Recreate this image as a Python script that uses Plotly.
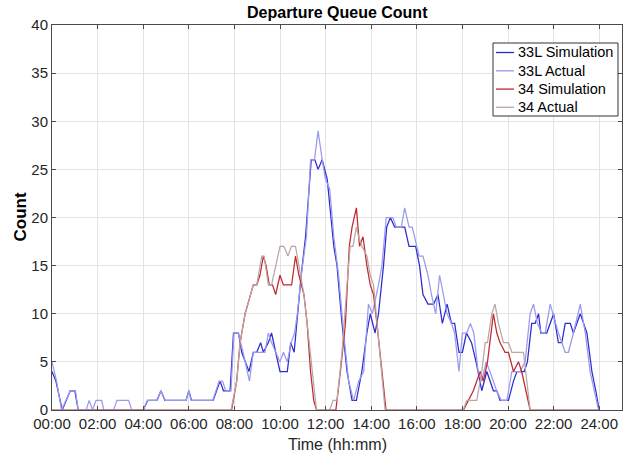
import plotly.graph_objects as go

# ---- data (time in hours, queue count) ----
sim33_t = [0.0, 0.17, 0.45, 0.8, 1.0, 1.15, 4.0, 4.2, 4.6, 4.78, 4.95, 5.88, 6.0, 6.12, 7.07, 7.37, 7.52, 7.81,
           7.96, 8.18, 8.32, 8.64, 8.83, 8.98, 9.15, 9.27, 9.49, 9.63, 9.81, 10.0, 10.32, 10.47, 10.62, 10.76,
           10.93, 11.12, 11.37, 11.53, 11.67, 11.85, 12.07, 12.36, 12.5, 12.72, 12.94, 13.16, 13.35, 13.59,
           13.81, 13.96, 14.17, 14.32, 14.54, 14.68, 14.84, 15.03, 15.47, 15.66, 15.95, 16.12, 16.27, 16.49,
           16.74, 16.93, 17.12, 17.33, 17.52, 17.66, 17.85, 18.0, 18.18, 18.4, 18.6, 18.85, 19.07, 19.36,
           19.51, 19.65, 20.02, 20.24, 20.39, 20.71, 20.85, 21.04, 21.19, 21.34, 21.44, 21.7, 22.0, 22.21,
           22.36, 22.51, 22.73, 22.87, 23.17, 23.46, 23.68, 23.85, 24.0]
sim33_v = [4, 3, 0, 2, 2, 0, 0, 1, 1, 2, 1, 1, 2, 1, 1, 3, 2, 2,
           8, 8, 6, 4, 6, 6, 7, 6, 7, 8, 6, 4, 4, 7, 6, 10,
           14, 18, 26, 26, 25, 26, 24, 17, 15, 9, 4, 1, 1, 4,
           8, 10, 8, 10, 15, 19, 20, 19, 19, 17, 17, 15, 12, 11,
           11, 12, 9, 11, 9, 9, 6, 6, 8, 7, 5, 2, 4, 2,
           2, 1, 1, 3, 4, 4, 5, 9, 9, 10, 8, 8, 10, 7,
           7, 9, 9, 8, 10, 8, 4, 2, 0]

act33_t = [0.0, 0.2, 0.42, 0.8, 1.03, 1.15, 1.5, 1.63, 1.78, 1.93, 2.18, 2.27, 2.7, 2.85, 3.36, 3.5, 4.0, 4.18,
           4.62, 4.77, 4.97, 5.88, 6.0, 6.1, 7.05, 7.33, 7.48, 7.62, 7.85, 7.98, 8.17, 8.38, 8.66, 8.83, 9.34,
           9.49, 9.63, 9.8, 10.0, 10.15, 10.32, 10.49, 10.64, 10.76, 10.93, 11.16, 11.34, 11.51, 11.67, 11.85,
           11.99, 12.18, 12.36, 12.57, 12.79, 13.01, 13.23, 13.45, 13.67, 13.88, 14.05, 14.32, 14.47, 14.66,
           14.95, 15.1, 15.32, 15.47, 15.66, 15.8, 16.1, 16.27, 16.49, 16.64, 16.83, 17.0, 17.15, 17.33,
           17.52, 17.66, 17.85, 18.0, 18.19, 18.35, 18.5, 18.69, 18.85, 19.04, 19.21, 19.36, 19.5, 19.7,
           19.95, 20.17, 20.53, 20.75, 20.97, 21.12, 21.29, 21.48, 21.63, 21.85, 22.07, 22.21, 22.51, 22.65,
           22.87, 23.17, 23.39, 23.6, 23.97]
act33_v = [5, 3, 0, 2, 2, 0, 0, 1, 0, 1, 1, 0, 0, 1, 1, 0, 0, 1,
           1, 2, 1, 1, 2, 1, 1, 3, 3, 2, 2, 8, 8, 6, 3, 6, 6,
           8, 7, 6, 5, 6, 5, 7, 8, 10, 14, 18, 26, 26, 29, 26,
           24, 23, 18, 14, 8, 3, 1, 3, 4, 11, 10, 13, 15, 20,
           20, 19, 19, 21, 19, 19, 16, 16, 14, 12, 10, 14, 12, 10,
           9, 8, 4, 8, 8, 9, 8, 4, 3, 5, 4, 3, 2, 1,
           1, 4, 4, 5, 10, 11, 9, 8, 8, 11, 9, 8, 6, 6,
           8, 11, 8, 4, 0]

sim34_t = [0.0, 7.88, 8.1, 8.25, 8.47, 8.69, 8.83, 8.98, 9.12, 9.27, 9.39, 9.53, 9.67, 9.81, 10.0, 10.15,
           10.51, 10.68, 10.83, 11.05, 11.19, 11.34, 11.48, 11.6, 12.45, 12.65, 12.87, 13.04, 13.16, 13.35,
           13.49, 13.64, 13.81, 13.96, 14.1, 14.25, 14.47, 14.65, 18.05, 18.26, 18.48, 18.78, 18.92, 19.1,
           19.36, 19.51, 19.65, 19.87, 20.02, 20.24, 20.46, 20.6, 20.97, 24.0]
sim34_v = [0, 0, 3, 7, 10, 12, 13, 13, 14, 16, 15, 13, 13, 12, 14, 13,
           13, 16, 14, 12, 9, 4, 1, 0, 0, 4, 9, 17, 19, 21,
           17, 18, 15, 13, 12, 9, 4, 0, 0, 1, 2, 4, 3, 5,
           10, 8, 7, 6, 6, 4, 5, 4, 0, 0]

act34_t = [0.0, 7.85, 8.1, 8.25, 8.47, 8.69, 8.83, 8.98, 9.2, 9.3, 9.49, 9.63, 10.0, 10.17, 10.35, 10.5,
           10.68, 10.83, 11.05, 11.19, 11.4, 11.6, 12.18, 12.33, 12.5, 12.72, 12.97, 13.08, 13.2, 13.35,
           13.45, 13.59, 13.81, 13.96, 14.1, 14.25, 14.61, 18.04, 18.19, 18.63, 18.85, 19.0, 19.1, 19.29,
           19.43, 19.58, 19.8, 20.02, 20.17, 20.68, 20.97, 24.0]
act34_v = [0, 0, 3, 7, 10, 12, 13, 13, 16, 16, 13, 13, 17, 17, 16, 17,
           17, 15, 12, 9, 4, 0, 0, 1, 1, 6, 14, 17, 17, 19,
           18, 17, 16, 14, 13, 9, 0, 0, 1, 1, 4, 7, 7, 10,
           11, 9, 7, 7, 6, 6, 0, 0]

series_names = ["33L Simulation", "33L Actual", "34 Simulation", "34 Actual"]
series_colors = ["#2b2bd0", "#9a9aee", "#c0292e", "#bba6a6"]

x_tickvals = [0, 2, 4, 6, 8, 10, 12, 14, 16, 18, 20, 22, 24]
x_ticktext = ["00:00", "02:00", "04:00", "06:00", "08:00", "10:00", "12:00",
              "14:00", "16:00", "18:00", "20:00", "22:00", "24:00"]
y_tickvals = [0, 5, 10, 15, 20, 25, 30, 35, 40]

title_text = "Departure Queue Count"
x_title = "Time (hh:mm)"
y_title = "Count"

fig = go.Figure()
for name, t, v, c in zip(series_names,
                         [sim33_t, act33_t, sim34_t, act34_t],
                         [sim33_v, act33_v, sim34_v, act34_v],
                         series_colors):
    fig.add_trace(go.Scatter(x=t, y=v, mode="lines", name=name, showlegend=False,
                             line=dict(color=c, width=1.25)))

font_family = "Liberation Sans, Arial, Helvetica, sans-serif"
axis_common = dict(showgrid=True, gridcolor="#e3e3e3", gridwidth=1,
                   showline=True, linecolor="#4a4a4a", linewidth=1,
                   mirror="ticks", ticks="inside", ticklen=4, tickcolor="#4a4a4a",
                   zeroline=False, automargin=False,
                   tickfont=dict(size=15, color="#262626", family=font_family))

L, R, T, B = 52, 6, 25, 45
W, H = 628, 455
pw, ph = W - L - R, H - T - B

def px_x(x):
    return (x - L) / pw

def px_y(y):
    return (H - B - y) / ph

# compact MATLAB-style legend box (drawn as shapes + text)
leg_left, leg_right, leg_top, leg_bottom = 493, 618, 43, 116
row_y = [52.5, 70.8, 89.1, 107.3]
shapes = [dict(type="rect", xref="paper", yref="paper",
               x0=px_x(leg_left), x1=px_x(leg_right), y0=px_y(leg_bottom), y1=px_y(leg_top),
               line=dict(color="#333333", width=1), fillcolor="white", layer="above")]
annotations = []
for name, c, ry in zip(series_names, series_colors, row_y):
    shapes.append(dict(type="line", xref="paper", yref="paper",
                       x0=px_x(496), x1=px_x(514), y0=px_y(ry), y1=px_y(ry),
                       line=dict(color=c, width=1.3), layer="above"))
    annotations.append(dict(text=name, xref="paper", yref="paper",
                            x=px_x(516), y=px_y(ry), xanchor="left", yanchor="middle",
                            showarrow=False, font=dict(size=14.5, color="#000000")))

annotations += [
    dict(text="<b>" + title_text + "</b>", xref="paper", yref="paper",
         x=0.5, y=px_y(12), xanchor="center", yanchor="middle", showarrow=False,
         font=dict(size=16, color="#000000")),
    dict(text=x_title, xref="paper", yref="paper",
         x=0.5, y=px_y(445), xanchor="center", yanchor="middle", showarrow=False,
         font=dict(size=16, color="#262626")),
    dict(text="<b>" + y_title + "</b>", xref="paper", yref="paper",
         x=px_x(20), y=0.5, xanchor="center", yanchor="middle", showarrow=False,
         textangle=-90, font=dict(size=17, color="#000000")),
]

fig.update_layout(
    width=W, height=H,
    margin=dict(l=L, r=R, t=T, b=B),
    paper_bgcolor="white", plot_bgcolor="white",
    font=dict(family=font_family, color="#262626"),
    xaxis=dict(range=[0, 25], tickvals=x_tickvals, ticktext=x_ticktext, **axis_common),
    yaxis=dict(range=[0, 40], tickvals=y_tickvals, **axis_common),
    showlegend=False,
    shapes=shapes,
    annotations=annotations,
)

fig.write_html("out.html", config={"displayModeBar": False},
               post_script="document.body.style.margin='0';")
